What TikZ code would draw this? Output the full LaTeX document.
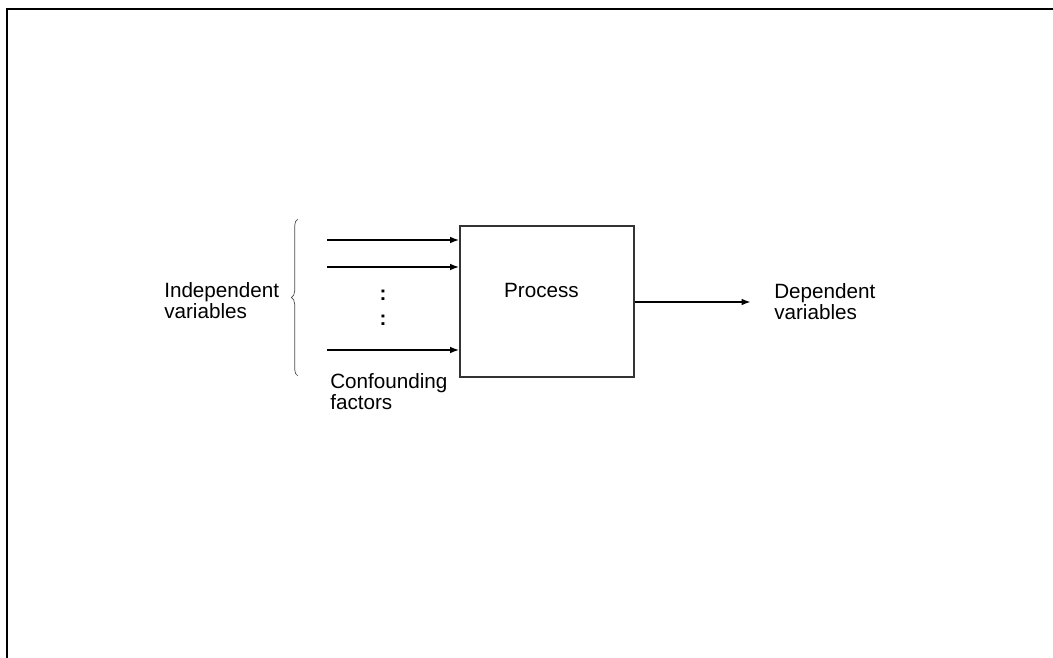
\documentclass[tikz,border=0pt]{standalone}
\usepackage{fontspec}
\setmainfont{Liberation Sans}
\usetikzlibrary{arrows.meta,decorations.pathreplacing}
\begin{document}
\begin{tikzpicture}[x=0.75pt,y=-0.75pt,
  lbl/.style={inner sep=0pt,font=\fontsize{15.5pt}{15.8pt}\selectfont,align=left},
  arr/.style={line width=1.4pt,-{Latex[length=7pt,width=5pt]}},
  frame/.style={line width=1.3pt},
  procbox/.style={draw=black!80,line width=0.8pt,minimum width=130.5pt,minimum height=113.25pt,inner sep=0pt}]
\useasboundingbox (0,0) rectangle (1053,657);
\fill[white] (0,0) rectangle (1053,657);
% frame
\coordinate (fb) at (7,660);
\coordinate (ftl) at (7,9);
\coordinate (fr) at (1056,9);
\draw[frame] (fb) -- (ftl) -- (fr);
% process box
\node[procbox] (box) at (547,301.5) {};
\node[lbl,anchor=center] (proc) at (541.5,290) {Process};
% input arrows
\coordinate (s1) at (327,240);
\coordinate (s2) at (327,267);
\coordinate (s3) at (327,350);
\draw[arr] (s1) -- (s1 -| box.west);
\draw[arr] (s2) -- (s2 -| box.west);
\draw[arr] (s3) -- (s3 -| box.west);
% dots
\node[lbl,font=\fontsize{15.5pt}{15.8pt}\selectfont\bfseries] (d1) at (383,295) {:};
\node[lbl,font=\fontsize{15.5pt}{15.8pt}\selectfont\bfseries] (d2) at (383,320) {:};
% output arrow
\coordinate (oe) at (751,302);
\draw[arr] (box.east |- oe) -- (oe);
% brace
\coordinate (bb) at (298,376);
\coordinate (bt) at (298,219);
\draw[line width=0.5pt,black!70,decorate,decoration={brace,amplitude=5pt}] (bb) -- (bt);
% labels
\node[lbl,anchor=west] (indep) at (164,301) {Independent\\variables};
\node[lbl,anchor=west] (dep) at (774,302) {Dependent\\variables};
\node[lbl,anchor=west] (conf) at (330,392) {Confounding\\factors};
\end{tikzpicture}
\end{document}
